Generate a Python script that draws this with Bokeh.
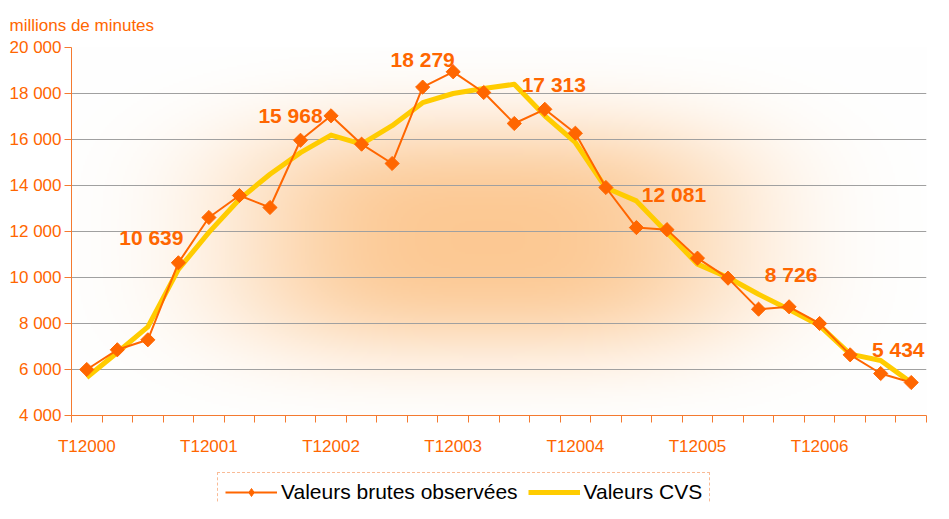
import numpy as np
from bokeh.plotting import figure
from bokeh.layouts import column
from bokeh.models import FixedTicker, Legend, LegendItem, ColumnDataSource, LabelSet
from bokeh.core.properties import value
from bokeh.embed import file_html
from bokeh.resources import INLINE

# ---- data ----
quarters = [f"T{q}{y}" for y in range(2000, 2007) for q in range(1, 5)]
raw_values = [6000, 6857, 7291, 10639, 12609, 13565, 13043, 15968,
              17030, 15797, 14957, 18279, 18943, 18043, 16696, 17313,
              16274, 13913, 12170, 12081, 10841, 9971, 8623, 8726,
              8000, 6638, 5826, 5434]
cvs_values = [5650, 6740, 7850, 10350, 11960, 13400, 14490, 15430,
              16190, 15800, 16600, 17600, 18000, 18220, 18400, 17030,
              15870, 13900, 13330, 11960, 10580, 10000, 9270, 8610,
              7910, 6670, 6390, 5430]
label_idx = [3, 7, 11, 15, 19, 23, 27]
y_ticks = [4000, 6000, 8000, 10000, 12000, 14000, 16000, 18000, 20000]
series_names = ["Valeurs brutes observées", "Valeurs CVS"]
unit_label = "millions de minutes"

ORANGE = "#FF6600"
YELLOW = "#FFCC00"
AXIS = "#F47A30"
FONT = "Liberation Sans"

def fmt(v):
    return f"{v:,}".replace(",", " ")

xs = [i + 0.5 for i in range(len(quarters))]

p = figure(width=933, height=465, x_range=(0, len(quarters)), y_range=(y_ticks[0], y_ticks[-1]),
           output_backend="svg", toolbar_location=None,
           min_border_left=71, min_border_right=7, min_border_top=47, min_border_bottom=50)
p.outline_line_color = None
p.background_fill_color = "white"

# background glow (decoration)
H, W = 184, 428
gx = np.linspace(0, 1, W)[None, :]
gy = np.linspace(0, 1, H)[:, None]
dx = (gx - 0.487) * 855 / 260.0
dy = (gy - 0.484) * 368 / 118.0
t = np.exp(-(np.abs(dx) ** 3 + np.abs(dy) ** 3)) * 0.95
c0 = np.array([255, 255, 255])
c1 = np.array([252, 198, 142])
img = np.zeros((H, W), dtype=np.uint32)
view = img.view(dtype=np.uint8).reshape((H, W, 4))
for k in range(3):
    view[:, :, k] = (c0[k] * (1 - t) + c1[k] * t).astype(np.uint8)
view[:, :, 3] = 255
p.image_rgba(image=[img], x=0, y=y_ticks[0], dw=len(quarters), dh=y_ticks[-1] - y_ticks[0], level="image")

src = ColumnDataSource(dict(x=xs, raw=raw_values, cvs=cvs_values))
r_cvs = p.line("x", "cvs", source=src, line_color=YELLOW, line_width=5, line_join="round")
r_raw_line = p.line("x", "raw", source=src, line_color=ORANGE, line_width=2)
r_raw_pts = p.scatter("x", "raw", source=src, marker="square", size=10, angle=np.pi / 4,
                      fill_color=ORANGE, line_color=ORANGE)

# value labels
lab_dx = [-27, -10, 0, 9, 7, 2, -13]
lab_dy = [25, 25, 28, 25, 35, 32, 33]
lsrc = ColumnDataSource(dict(x=[xs[i] for i in label_idx], y=[raw_values[i] for i in label_idx],
                             t=[fmt(raw_values[i]) for i in label_idx], dx=lab_dx, dy=lab_dy))
labels = LabelSet(x="x", y="y", text="t", source=lsrc, x_offset="dx", y_offset="dy",
                  text_font=value(FONT), text_font_size="21px", text_font_style="bold",
                  text_color=ORANGE, text_align="center", text_baseline="middle")
p.add_layout(labels)

# axes
p.xgrid.visible = False
p.ygrid.grid_line_color = "#A0A0A0"
p.ygrid.grid_line_width = 1
p.yaxis.ticker = FixedTicker(ticks=y_ticks)
p.yaxis.major_label_overrides = {v: fmt(v) for v in y_ticks}
p.xaxis.ticker = FixedTicker(ticks=[xs[i] for i in range(0, len(quarters), 4)],
                             minor_ticks=list(range(0, len(quarters) + 1)))
p.xaxis.major_label_overrides = {xs[i]: quarters[i] for i in range(0, len(quarters), 4)}

for ax in (p.xaxis[0], p.yaxis[0]):
    ax.axis_line_color = AXIS
    ax.axis_line_width = 1
    ax.major_label_text_color = ORANGE
    ax.major_label_text_font = FONT
    ax.major_label_text_font_size = "17px"

p.yaxis.major_tick_out = 7
p.yaxis.major_tick_in = 0
p.yaxis.major_tick_line_color = AXIS
p.yaxis.minor_tick_line_color = None
p.yaxis.major_label_standoff = 3

p.xaxis.major_tick_out = 7
p.xaxis.major_tick_in = 0
p.xaxis.major_tick_line_color = None
p.xaxis.minor_tick_out = 7
p.xaxis.minor_tick_in = 0
p.xaxis.minor_tick_line_color = AXIS
p.xaxis.major_label_standoff = 14

# title
p.title.text = unit_label
p.title.text_font = FONT
p.title.text_font_size = "17px"
p.title.text_font_style = "normal"
p.title.text_color = ORANGE
p.title.align = "left"
p.title.offset = -62
p.title.standoff = 25

# legend strip (separate figure below the chart; legend-only renderers hold no visible data)
pl = figure(width=933, height=38, output_backend="svg", toolbar_location=None,
            x_range=(0, 1), y_range=(0, 1),
            x_axis_location=None, y_axis_location=None,
            min_border_left=0, min_border_right=0, min_border_top=0, min_border_bottom=0)
pl.outline_line_color = None
pl.grid.visible = False
nan_src = ColumnDataSource(dict(x=[np.nan], y=[np.nan]))
lg_line = pl.line("x", "y", source=nan_src, line_color=ORANGE, line_width=2)
lg_pts = pl.scatter("x", "y", source=nan_src, marker="diamond", size=14,
                    fill_color=ORANGE, line_color=ORANGE)
lg_cvs = pl.line("x", "y", source=nan_src, line_color=YELLOW, line_width=5)

legend = Legend(items=[LegendItem(label=series_names[0], renderers=[lg_line, lg_pts], index=0),
                       LegendItem(label=series_names[1], renderers=[lg_cvs], index=0)],
                orientation="horizontal", location=(146, -9))
legend.label_text_font = FONT
legend.label_text_font_size = "21px"
legend.label_text_color = "black"
legend.border_line_color = AXIS
legend.border_line_dash = "6 4"
legend.border_line_width = 1
legend.background_fill_alpha = 0
legend.glyph_width = 52
legend.glyph_height = 20
legend.label_standoff = 4
legend.spacing = 10
legend.padding = 7
legend.margin = 0
pl.add_layout(legend, "center")

layout = column(p, pl, spacing=0)
open("out.html", "w").write(file_html(layout, INLINE))
